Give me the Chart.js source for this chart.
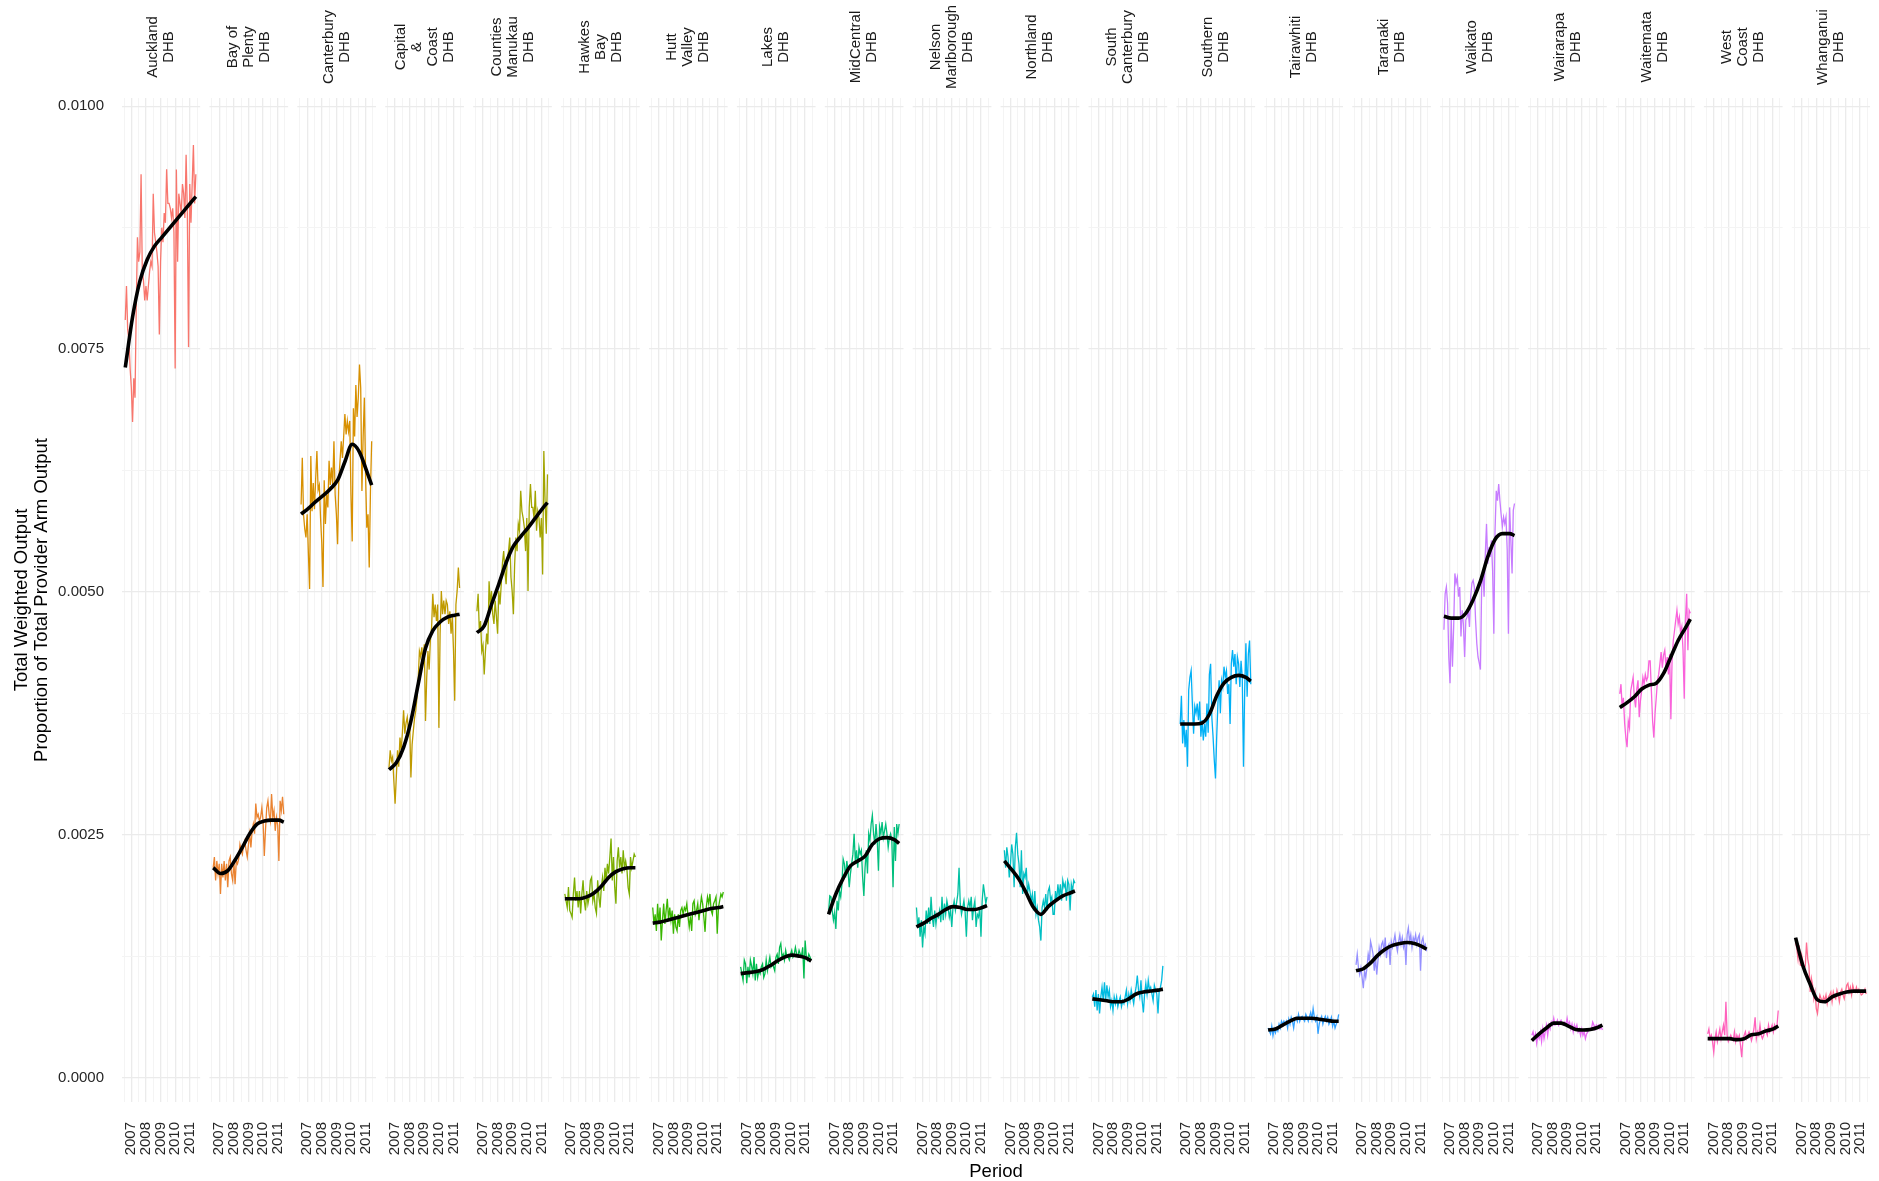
<!DOCTYPE html>
<html>
<head>
<meta charset="utf-8">
<script src="https://cdn.jsdelivr.net/npm/chart.js@4.4.1/dist/chart.umd.min.js"></script>
<style>
  html, body { margin: 0; padding: 0; background: #fff; }
  canvas { display: block; }
</style>
</head>
<body>
<canvas id="chart" width="1879" height="1181"></canvas>
<script>
// values are in units of 0.0001 (share of total provider arm output)
const UNIT = 1e-4;

// monthly periods, Aug 2006 .. Jun 2011
const firstMonth = 2006 + 7 / 12;
const monthCount = 59;
// months where the smoothed trend is sampled
const trendMonths = [0, 6, 12, 18, 24, 30, 36, 42, 48, 54, 58];

const stripLines = [
  ['Auckland', 'DHB'], ['Bay of', 'Plenty', 'DHB'], ['Canterbury', 'DHB'],
  ['Capital', '&', 'Coast', 'DHB'], ['Counties', 'Manukau', 'DHB'], ['Hawkes', 'Bay', 'DHB'],
  ['Hutt', 'Valley', 'DHB'], ['Lakes', 'DHB'], ['MidCentral', 'DHB'],
  ['Nelson', 'Marlborough', 'DHB'], ['Northland', 'DHB'], ['South', 'Canterbury', 'DHB'],
  ['Southern', 'DHB'], ['Tairawhiti', 'DHB'], ['Taranaki', 'DHB'], ['Waikato', 'DHB'],
  ['Wairarapa', 'DHB'], ['Waitemata', 'DHB'], ['West', 'Coast', 'DHB'], ['Whanganui', 'DHB']
];

const hueColours = ['#F8766D', '#EA8331', '#D89000', '#C09B00', '#A3A500', '#7CAE00', '#39B600',
  '#00BB4E', '#00BF7D', '#00C1A3', '#00BFC4', '#00BAE0', '#00B0F6', '#35A2FF', '#9590FF',
  '#C77CFF', '#E76BF3', '#FA62DB', '#FF62BC', '#FF6C91'];

const auckland = [78,81.5,77,76,73,71,67.5,72,70,79, 86.5,84,85,93,83,82,80,81.5,80,81.5,
  83,84,83.5,91,87,86,85,83.5,76.5,84, 87.5,86,89,88,93.5,90,90,89.5,88.5,89.5,
  87,73,93.5,84,91,90,89,92,91,88.5, 95,89,75.2,92,88,92,96,90,93];
const bayOfPlenty = [21.6,22.7,20.3,22.3,21,22,18.9,22,20.6,22.3, 20.3,22,19.6,22.3,22.7,21,20.3,22.3,19.9,22.3,
  22,22.5,24,23.4,23,24,24.4,23.4,22.7,24, 25.1,23.7,25.4,26.1,25.1,28.2,26.8,27.1,26.4,26.8,
  27.8,26.4,22.8,25.5,27.8,28.5,27.1,26.4,29.2,26.8, 27.5,25.4,26.8,26,22.3,28.5,27.5,28.9,27.1];
const canterbury = [59,63.8,58,56.5,55.6,58,54,50.3,64,58.3, 61.2,58.5,61.7,64.5,60.5,61,57.6,55,50.5,61.5,
  57,60,58.7,63.5,61,62.8,61,65.5,60,58, 54.9,61.5,63.5,65.5,63.8,66,68.3,66.2,67.6,66.5,
  67.6,60,55.2,68.9,66,71.3,68,70,73.4,71, 60.4,66,70,62,56.6,58,52.5,60.4,65.5];
const capitalCoast = [31.9,33.7,32.6,33,30.5,28.2,30.9,33.7,32,35, 33.7,35.5,37.8,35.4,36.5,37.1,35.7,36.5,30.9,34.3,
  35.7,37,37.8,39.1,41,43.9,43.3,44.3,42.6,44.6, 36.7,41.2,43.9,42,45,46.3,49.8,47.4,48.7,47,
  48.7,36,45.7,50.1,47.7,49.1,47.7,49.1,48.7,46.7, 48,45.7,47.4,44,38.8,48.7,50.1,52.5,50.4];
const countiesManukau = [48,49.8,46,47,43.9,44.5,41.5,43.9,45.7,44.6, 51.1,48.7,50.1,47.7,46.7,49.1,47.5,45.7,50.1,48.7,
  50.8,53,54.2,52.2,50.8,53.5,54.2,55.6,51.5,50, 47.7,52.8,55.6,54.2,57,56.3,60.4,58.3,57.6,56.6,
  54.2,57.6,50.1,58.7,61.1,58.7,58.7,57.5,60.4,56.3, 58.3,57.6,55.6,57.6,51.8,64.5,59.3,56,62.1];
const hawkesBay = [18.9,18.2,17.5,19.6,17.2,16.9,16.5,18.9,20.6,18.2, 19.2,17.5,19.2,16.9,18.9,20.3,18.2,17.2,19.2,17.9,
  18.6,20.3,20.6,18.2,18.9,17.5,16.9,20.3,18.6,17.5, 19.6,20.6,19.2,21.6,20.3,22,21,22.7,24.6,20.3,
  22.7,19.6,17.9,22.3,23.7,21.6,22.7,21,23.4,21.6, 22.3,21.5,19.6,18.9,22.7,21.6,22.3,23,22.7];
const huttValley = [17.5,15.8,16.8,15.1,17.9,15.8,17.5,14.1,16.2,17.9, 15.8,17.2,18.4,16.2,17.5,16.2,17.2,14.8,16.8,15.5,
  15.1,16.8,15.5,17.2,17.5,16.8,17.5,17.2,17.9,16.6, 15.5,16.6,15.1,17.9,18.2,16.8,17.2,17.9,16.2,17.5,
  18.6,17.9,16.5,15,17.5,18.6,17.9,18.9,17.2,16.8, 17.9,18.2,18.6,14.8,17.5,18.2,18.9,18.6,19.1];
const lakes = [11.4,10.7,10,12.1,11.7,9.7,11.4,10.3,12.1,11.5, 10.7,12.4,10,11.7,10.3,11,10.7,11.4,11.7,10.3,
  10.7,12.1,11,11.7,12.4,11.4,11.7,11.4,11,12.4, 12.7,11.7,13.4,13.8,12.4,12.7,12.1,13.1,12.4,12.4,
  12.1,12.7,13.1,12.4,12.7,13.4,12.7,12.5,13.1,12.7, 12.5,13.4,10.2,14.1,12.4,12.1,12.7,12.4,12.1];
const midCentral = [17,18.7,18.6,17.2,16.2,17,15.3,18.2,17.2,19.2, 18.6,19.9,22.5,22,20.6,22.3,21.3,19.6,21,22,
  23,25.1,22.3,23.4,21.6,23.7,23,23.4,20.6,18.7, 21.6,23.4,21,25.1,24.4,26.1,27,25.1,24,26.1,
  24.4,21.3,25.8,25.1,26.3,24.7,25.4,26.1,25.1,23.7, 24.7,25.1,24.4,19.6,25.8,22.3,26.1,25.1,26.1];
const nelsonMarlborough = [17.5,15.5,16.5,14.5,16.2,13.4,15.5,14.8,17.2,15.8, 17.5,15.8,18.6,16.5,15.5,17.2,15.8,16.8,16.5,17.2,
  16,18.6,16.2,17.9,16.8,18.2,17.5,16.5,17.2,15.5, 17.5,18.2,17.2,18,18.9,21.6,17.9,16.8,17.5,18.2,
  17,14.5,17.5,18.2,17.5,18.6,16.2,17.5,18.2,15.5, 16.8,16.5,17.5,14.5,18.2,19.9,18.9,17.9,18.6];
const northland = [23.4,21.6,23.7,22.7,20.6,22,24,23,19.6,23.7, 25.2,23,22,19.6,23.4,18.9,21,20.6,21.6,18.9,
  19.9,19.2,18.2,18.9,17.2,19.2,16.8,17.5,16.2,15.5, 14.1,17.5,18.2,17.5,18.9,17.2,19.2,19.6,18.2,18.6,
  16.8,16.8,19.2,18.2,19.9,18.6,19.9,18.2,20.3,19.6, 20,18.2,20.3,19.9,17.2,19.9,19.2,20.3,20];
const southCanterbury = [8.3,8.6,7.3,9,6.9,8.6,6.6,8.3,9.3,7.9, 9.8,7.9,9.5,8.3,9,7.3,7.9,6.9,8.3,7.6,
  8.3,7.3,7.9,8.3,7.3,7.9,7.6,8.3,9,7.6, 8.6,7.9,9,8.3,7.6,8.6,9.3,10.5,9,8.3,
  10,7.9,6.7,8.6,9.7,8.6,10,9,9.3,8.6, 7.9,9.5,9,8.6,6.6,9,9.3,10,11.5];
const southern = [36.4,39.3,34.4,36.8,34,35.8,32,39.9,41.2,41.9, 38.5,35.4,38.2,37.5,38.5,36.8,38.7,35.1,36.8,34.7,
  36.4,35.1,38.5,35.5,41.5,42.6,37.1,35.1,32.7,30.8, 35.1,38.5,40.9,37.5,40.9,40.2,42.3,41.2,41.9,39.5,
  40.5,36.4,42.6,44,42.3,43.6,40.5,43.3,42.6,40.2, 42.9,41.2,32,39.9,44.7,39.2,43.6,45,40.5];
const tairawhiti = [5.1,4.8,4.5,5.3,4.3,5.0,4.6,5.1,4.8,5.5, 5.1,5.8,5.5,5.8,5.5,5.8,5.1,6.0,5.5,6.2,
  5.8,5.1,6.0,6.2,5.8,6.5,5.8,6.2,6.3,6.0, 5.8,6.5,6.2,5.8,6.3,6.7,6.0,7.1,6.2,5.8,
  6.2,4.5,5.5,6.0,6.3,5.5,6.0,6.3,5.8,6.2, 5.5,5.8,6.2,5.3,5.8,5.1,5.5,5.8,6.5];
const taranaki = [11.6,12.7,11.3,10.6,11.3,10.3,9.2,11.0,10.3,11.3, 12.7,12.0,14.0,13.4,12.7,11.0,12.3,10.6,12.0,13.4,
  12.7,13.7,14.0,13.0,14.4,12.3,13.4,13.7,11.6,14.0, 13.4,14.0,14.7,13.7,13.0,14.0,14.7,13.7,14.4,13.4,
  14.0,11.6,14.7,15.4,14.0,14.7,13.4,14.4,14.0,14.7, 13.7,14.4,14.7,11.0,14.0,14.4,13.4,13.7,13.0];
const waikato = [46.1,49.8,50.5,48.8,43.3,40.6,47.4,42.3,46.4,51.9, 50.9,51.5,49.5,50.5,45.4,48.1,46.7,43.3,47.1,47.4,
  48.1,46.4,49.5,50.9,51.2,50.5,47.1,44.7,43.3,42.7, 42.0,50.5,52.2,49.5,53.9,57,52.9,54.6,53.6,55.3,
  52.2,45.7,56.3,60.4,59.4,61.1,59.4,58,56.7,57.7, 57,57.7,54.3,45.7,58.7,55.3,51.9,58.4,59.1];
const wairarapa = [4.35,4.7,4.0,4.5,3.5,4.35,4.0,4.7,3.7,5.0, 4.0,4.7,5.4,4.35,5.4,5.0,5.7,5.4,6.1,5.4,
  5.5,5.9,5.4,5.7,5.9,5.5,5.4,5.7,5.4,6.1, 5.4,5.7,5.0,5.5,4.7,5.4,5.0,5.4,4.7,5.0,
  4.35,5.0,4.35,4.7,4.0,4.5,4.7,5.0,4.9,5.0, 5.7,5.4,5.0,5.4,5.2,5.4,5.0,5.2,4.9];
const waitemata = [39.5,40.5,38.1,39.1,36.5,35,34,36.7,36,39.8, 40.5,41.2,39.1,38.1,40,40.9,37.1,38.8,39.8,41.2,
  40.5,41.5,40.9,41.2,42.9,42.9,39.8,36.7,35,37.5, 39.1,40.9,41.5,42.6,43.8,42.2,43.5,44,42.2,43.3,
  41.5,43.6,36.9,43,45,46,47.1,48.1,46.7,47.4, 45.7,46.4,44,39,47.1,49.8,44,48.1,47.8];
const westCoast = [4.5,5.0,4.0,4.35,3.7,2.6,4.0,4.7,3.7,4.35, 5.0,4.0,4.7,5.4,4.35,7.8,4.35,3.7,4.0,4.35,
  4.0,3.8,4.7,3.7,4.35,4.0,4.35,3.3,2.1,4.0, 4.35,4.7,4.0,4.35,4.7,4.35,3.8,4.35,5.0,6.2,
  4.0,4.7,4.35,5.4,4.35,4.0,4.35,5.0,4.7,4.35, 5.4,4.7,5.0,5.4,4.7,5.4,5.0,5.4,6.9];
const whanganui = [13.9,13.3,12.2,13.6,11.5,12.6,11.9,11.2,11.5,13.9, 12.2,11.5,8.8,10.2,9.5,8.1,8.8,7.1,6.6,7.8,
  8.5,8.1,7.8,8.3,7.9,8.5,7.6,8.3,8.5,8.8, 7.8,8.8,8.3,8.1,9.0,8.5,7.8,8.8,9.1,8.5,
  8.1,8.8,9.5,9.7,8.8,9.3,8.5,9.5,9.0,8.8, 9.3,8.8,9.1,8.8,8.5,8.6,8.8,9.1,8.6];

// smoothed trend, sampled at trendMonths
const aucklandTrend = [73.1,78.3,82.0,84.2,85.6,86.5,87.4,88.3,89.2,90.1,90.7];
const bayOfPlentyTrend = [21.6,21.0,21.3,22.4,23.7,25.1,26.1,26.4,26.5,26.5,26.3];
const canterburyTrend = [58.0,58.6,59.3,59.9,60.6,61.5,63.4,65.2,64.4,62.4,61.0];
const capitalCoastTrend = [31.7,32.4,34.0,36.7,40.5,44.2,46.0,46.9,47.4,47.6,47.7];
const countiesManukauTrend = [45.8,46.5,48.7,50.8,53.0,54.7,55.7,56.6,57.6,58.6,59.2];
const hawkesBayTrend = [18.4,18.4,18.4,18.6,19.0,19.7,20.6,21.2,21.5,21.6,21.6];
const huttValleyTrend = [15.9,16.0,16.2,16.4,16.6,16.8,17.0,17.2,17.4,17.5,17.6];
const lakesTrend = [10.7,10.8,10.9,11.1,11.5,12.0,12.4,12.6,12.5,12.3,12.0];
const midCentralTrend = [16.8,18.9,20.5,21.8,22.3,22.8,24.0,24.6,24.7,24.5,24.1];
const nelsonMarlboroughTrend = [15.5,15.9,16.4,16.8,17.3,17.6,17.5,17.3,17.3,17.5,17.7];
const northlandTrend = [22.3,21.4,20.4,19.0,17.5,16.8,17.6,18.2,18.7,19.0,19.2];
const southCanterburyTrend = [8.1,8.0,7.9,7.8,7.8,8.1,8.6,8.8,8.9,9.0,9.1];
const southernTrend = [36.4,36.4,36.4,36.5,37.4,39.3,40.6,41.2,41.4,41.2,40.8];
const tairawhitiTrend = [4.9,5.0,5.4,5.8,6.1,6.1,6.1,6.0,5.9,5.8,5.8];
const taranakiTrend = [11.0,11.2,11.8,12.6,13.2,13.6,13.8,13.9,13.8,13.5,13.2];
const waikatoTrend = [47.5,47.3,47.3,47.8,49.2,51.1,53.6,55.4,56.0,56.0,55.8];
const wairarapaTrend = [3.8,4.5,5.1,5.6,5.6,5.3,4.95,4.9,4.95,5.15,5.4];
const waitemataTrend = [38.1,38.6,39.2,40.0,40.4,40.6,41.6,43.3,45.0,46.3,47.2];
const westCoastTrend = [4.0,4.0,4.0,4.0,3.9,4.0,4.4,4.5,4.8,5.0,5.3];
const whanganuiTrend = [14.4,11.5,9.6,8.0,7.8,8.3,8.6,8.8,8.9,8.9,8.9];

const xTickYears = [2006.5, 2007, 2007.5, 2008, 2008.5, 2009, 2009.5, 2010, 2010.5, 2011, 2011.5];
const xTickLabels = ['', '2007', '', '2008', '', '2009', '', '2010', '', '2011', ''];
const yTickValues = [0, 0.00125, 0.0025, 0.00375, 0.005, 0.00625, 0.0075, 0.00875, 0.01];
const yTickLabels = ['0.0000', '', '0.0025', '', '0.0050', '', '0.0075', '', '0.0100'];

const series = [auckland, bayOfPlenty, canterbury, capitalCoast, countiesManukau, hawkesBay,
  huttValley, lakes, midCentral, nelsonMarlborough, northland, southCanterbury, southern,
  tairawhiti, taranaki, waikato, wairarapa, waitemata, westCoast, whanganui];
const trends = [aucklandTrend, bayOfPlentyTrend, canterburyTrend, capitalCoastTrend,
  countiesManukauTrend, hawkesBayTrend, huttValleyTrend, lakesTrend, midCentralTrend,
  nelsonMarlboroughTrend, northlandTrend, southCanterburyTrend, southernTrend, tairawhitiTrend,
  taranakiTrend, waikatoTrend, wairarapaTrend, waitemataTrend, westCoastTrend, whanganuiTrend];

// facets sit side by side on one linear x axis, each shifted by PERIOD years
const PANEL_LO = 2006.36, PANEL_HI = 2011.68, PANEL_GAP = 0.70;
const PERIOD = PANEL_HI - PANEL_LO + PANEL_GAP;
const NPANEL = series.length;

const monthPos = [];
for (let k = 0; k < monthCount; k++) monthPos.push(firstMonth + k / 12);

const xTicks = [];
for (let i = 0; i < NPANEL; i++) {
  xTickYears.forEach((yr, j) => {
    xTicks.push({ value: yr + i * PERIOD, label: xTickLabels[j], major: xTickLabels[j] !== '' });
  });
}

const GRID_MAJOR = '#EBEBEB', GRID_MINOR = '#F4F4F4';
const FONT = '"Liberation Sans", Arial, Helvetica, sans-serif';
Chart.defaults.font.family = FONT;

const datasets = [];
series.forEach((vals, i) => {
  datasets.push({
    data: vals.map((v, k) => ({ x: monthPos[k] + i * PERIOD, y: v * UNIT })),
    borderColor: hueColours[i],
    borderWidth: 1.3,
    pointRadius: 0,
    tension: 0,
    order: 2
  });
});
trends.forEach((vals, i) => {
  datasets.push({
    data: vals.map((v, j) => ({ x: monthPos[trendMonths[j]] + i * PERIOD, y: v * UNIT })),
    borderColor: '#000000',
    borderWidth: 3.6,
    pointRadius: 0,
    cubicInterpolationMode: 'monotone',
    borderCapStyle: 'butt',
    order: 1
  });
});

// white out the grid between facets
const panelGaps = {
  id: 'panelGaps',
  beforeDatasetsDraw(chart) {
    const { ctx, chartArea } = chart;
    const xs = chart.scales.x;
    ctx.save();
    ctx.fillStyle = '#ffffff';
    for (let i = 0; i < NPANEL - 1; i++) {
      const x0 = xs.getPixelForValue(PANEL_HI + i * PERIOD) + 0.5;
      const x1 = xs.getPixelForValue(PANEL_LO + (i + 1) * PERIOD) - 0.5;
      ctx.fillRect(x0, chartArea.top - 2, x1 - x0, chartArea.bottom - chartArea.top + 4);
    }
    ctx.restore();
  }
};

// facet strip labels, rotated
const stripText = {
  id: 'stripText',
  afterDraw(chart) {
    const { ctx } = chart;
    const xs = chart.scales.x;
    ctx.save();
    ctx.font = '15px ' + FONT;
    ctx.fillStyle = '#1a1a1a';
    ctx.textAlign = 'center';
    ctx.textBaseline = 'middle';
    stripLines.forEach((lines, i) => {
      const cx = xs.getPixelForValue((PANEL_LO + PANEL_HI) / 2 + i * PERIOD);
      lines.forEach((line, j) => {
        ctx.save();
        ctx.translate(cx + (j - (lines.length - 1) / 2) * 16, 47);
        ctx.rotate(-Math.PI / 2);
        ctx.fillText(line, 0, 0);
        ctx.restore();
      });
    });
    ctx.restore();
  }
};

new Chart(document.getElementById('chart'), {
  type: 'line',
  data: { datasets },
  plugins: [panelGaps, stripText],
  options: {
    responsive: false,
    animation: false,
    devicePixelRatio: 1,
    layout: { padding: { top: 98, right: 9, left: 0, bottom: 0 } },
    plugins: { legend: { display: false }, tooltip: { enabled: false } },
    scales: {
      x: {
        type: 'linear',
        bounds: 'data',
        min: PANEL_LO,
        max: PANEL_HI + (NPANEL - 1) * PERIOD,
        afterBuildTicks: scale => { scale.ticks = xTicks.map(t => ({ value: t.value })); },
        afterFit: scale => {
          scale.height = 79;
          scale.paddingLeft = 0;
          scale.paddingRight = 0;
        },
        border: { display: false },
        grid: {
          drawTicks: false,
          color: ctx => (xTicks[ctx.index] && xTicks[ctx.index].major) ? GRID_MAJOR : GRID_MINOR,
          lineWidth: ctx => (xTicks[ctx.index] && xTicks[ctx.index].major) ? 1.3 : 1
        },
        ticks: {
          autoSkip: false,
          minRotation: 90,
          maxRotation: 90,
          padding: 20,
          color: '#262626',
          font: { size: 15 },
          callback: (v, idx) => xTicks[idx] ? xTicks[idx].label : ''
        },
        title: {
          display: true,
          text: 'Period',
          color: '#000',
          font: { size: 18.5, lineHeight: 1.0 },
          padding: { top: 0, bottom: 0 }
        }
      },
      y: {
        type: 'linear',
        bounds: 'data',
        min: -0.000252,
        max: 0.010085,
        afterBuildTicks: scale => { scale.ticks = yTickValues.map(v => ({ value: v })); },
        afterFit: scale => {
          scale.width = 122;
          scale.paddingTop = 0;
          scale.paddingBottom = 0;
        },
        border: { display: false },
        grid: {
          drawTicks: false,
          color: ctx => yTickLabels[ctx.index] ? GRID_MAJOR : GRID_MINOR,
          lineWidth: ctx => yTickLabels[ctx.index] ? 1.3 : 1
        },
        ticks: {
          autoSkip: false,
          padding: 18,
          color: '#262626',
          font: { size: 15 },
          callback: (v, idx) => yTickLabels[idx]
        },
        title: {
          display: true,
          text: ['Total Weighted Output', 'Proportion of Total Provider Arm Output'],
          color: '#000',
          font: { size: 18.5, lineHeight: 1.08 },
          padding: { top: 12, bottom: 0 }
        }
      }
    }
  }
});
</script>
</body>
</html>
